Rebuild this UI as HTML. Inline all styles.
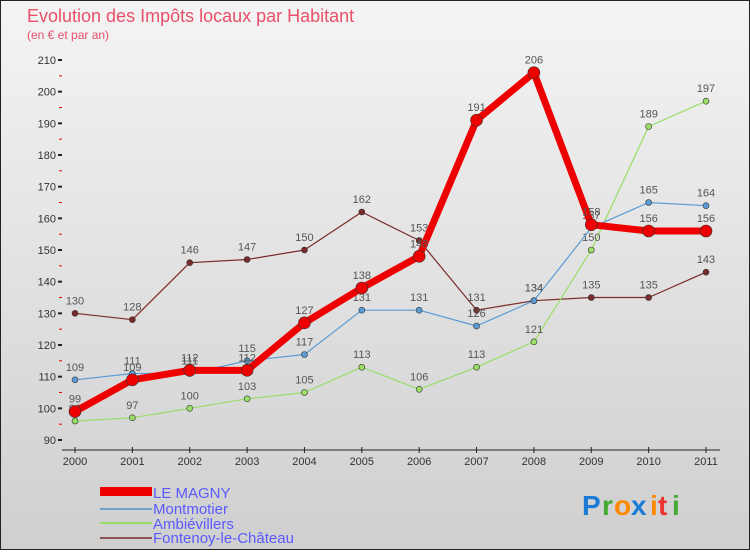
<!DOCTYPE html>
<html><head><meta charset="utf-8"><style>
body{margin:0}
svg text{font-family:"Liberation Sans",sans-serif}
</style></head><body>
<svg id="c" width="750" height="550" xmlns="http://www.w3.org/2000/svg">
<defs><linearGradient id="bg" x1="0" y1="0" x2="0" y2="1"><stop offset="0" stop-color="#f4f4f4"/><stop offset="1" stop-color="#cfcfcf"/></linearGradient></defs>
<rect x="0.5" y="0.5" width="749" height="549" fill="url(#bg)" stroke="#222"/>
<text x="27" y="22" font-size="18" fill="#e8506a">Evolution des Impôts locaux par Habitant</text>
<text x="27" y="39" font-size="12" fill="#e8506a">(en € et par an)</text>
<g id="grid"></g><g id="axes"></g><g id="series"></g>
<g>
<rect x="100" y="487" width="52" height="9" fill="#e00"/>
<text x="153" y="498" font-size="15" fill="#5a5aff">LE MAGNY</text>
<rect x="100" y="508" width="52" height="2" fill="#6fa0cc"/>
<text x="153" y="514" font-size="15" fill="#5a5aff">Montmotier</text>
<rect x="100" y="522" width="52" height="2" fill="#99dd66"/>
<text x="153" y="529" font-size="15" fill="#5a5aff">Ambiévillers</text>
<rect x="100" y="537" width="52" height="2" fill="#8b5555"/>
<text x="153" y="543" font-size="15" fill="#5a5aff">Fontenoy-le-Château</text>
</g>
<g font-size="28" font-weight="bold">
<text x="582" y="515" fill="#1a7bd6">P</text><text x="602" y="515" fill="#44aa33">r</text><text x="614" y="515" fill="#ff8800">o</text><text x="631" y="515" fill="#1a7bd6">x</text><text x="650" y="515" fill="#ff8800">i</text><text x="658" y="515" fill="#ee3333">t</text><text x="672" y="515" fill="#44aa33">i</text>
</g>
</svg>
<script>
const years=["2000","2001","2002","2003","2004","2005","2006","2007","2008","2009","2010","2011"];
const yTicks=[90,100,110,120,130,140,150,160,170,180,190,200,210];
const leMagny=[99,109,112,112,127,138,148,191,206,158,156,156];
const montmotier=[109,111,111,115,117,131,131,126,134,157,165,164];
const ambievillers=[96,97,100,103,105,113,106,113,121,150,189,197];
const fontenoy=[130,128,146,147,150,162,153,131,134,135,135,143];
const NS="http://www.w3.org/2000/svg";
const xS=i=>75+i*(706-75)/11;
const yS=v=>440-(v-90)*(380/120);
function mk(tag,attrs,parent){const e=document.createElementNS(NS,tag);for(const k in attrs)e.setAttribute(k,attrs[k]);parent.appendChild(e);return e;}
const axes=document.getElementById('axes'),ser=document.getElementById('series');
let ax=mk('line',{x1:62,y1:450,x2:720,y2:450,stroke:'#222','stroke-width':1},axes);


years.forEach((y,i)=>{
 let t=mk('line',{x1:xS(i),y1:447,x2:xS(i),y2:453,stroke:'#222'},axes);
 
 
 let l=mk('text',{x:xS(i),y:465,'font-size':11,'text-anchor':'middle',fill:'#333'},axes);l.textContent=y;
 
 
});
yTicks.forEach(v=>{
 let t=mk('line',{x1:58,y1:yS(v),x2:62,y2:yS(v),stroke:'#222','stroke-width':2},axes);
 
 
 let l=mk('text',{x:56,y:yS(v)+4,'font-size':11,'text-anchor':'end',fill:'#333'},axes);l.textContent=v;
 
 
});
for(let v=95;v<210;v+=10){let t=mk('line',{x1:59,y1:yS(v),x2:62,y2:yS(v),stroke:'#e00','stroke-width':1},axes);
 
 }
function draw(data,color,w,r,name){
 const g=mk('g',{},ser);
 
 
 const p=mk('polyline',{points:data.map((v,i)=>xS(i)+','+yS(v)).join(' '),fill:'none',stroke:color,'stroke-width':w,'stroke-linejoin':'round'},g);
 
 
 data.forEach((v,i)=>{
  const c=mk('circle',{cx:xS(i),cy:yS(v),r:r,fill:color,stroke:'#333','stroke-width':0.6},g);
  
  
  const t=mk('text',{x:xS(i),y:yS(v)-9,'font-size':11,'text-anchor':'middle',fill:'#555'},g);t.textContent=v;
  
  
 });
}
draw(fontenoy,'#7a2a2a',1.2,3,'fontenoy');
draw(ambievillers,'#99dd66',1.2,3,'ambievillers');
draw(montmotier,'#5b9bd5',1.2,3,'montmotier');
draw(leMagny,'#ee0000',7,6,'le-magny');
</script>
</body></html>
